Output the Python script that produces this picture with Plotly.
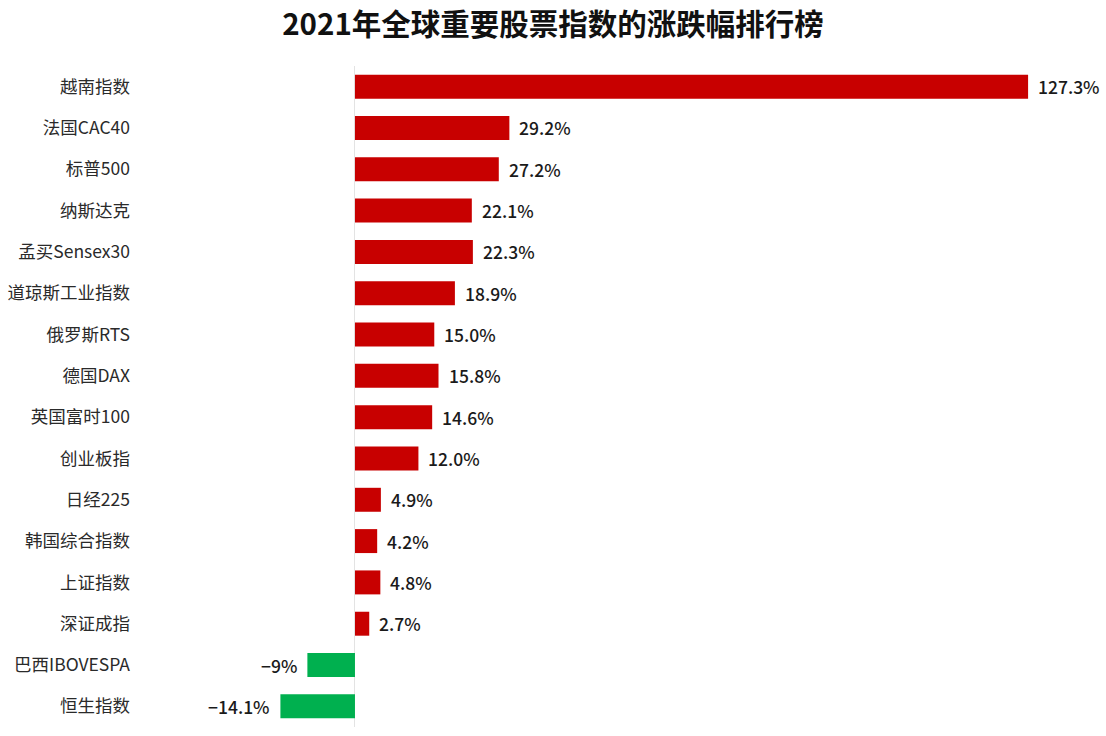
import plotly.graph_objects as go

categories = ["越南指数", "法国CAC40", "标普500", "纳斯达克", "孟买Sensex30", "道琼斯工业指数",
              "俄罗斯RTS", "德国DAX", "英国富时100", "创业板指", "日经225", "韩国综合指数",
              "上证指数", "深证成指", "巴西IBOVESPA", "恒生指数"]
values = [127.3, 29.2, 27.2, 22.1, 22.3, 18.9, 15.0, 15.8, 14.6, 12.0, 4.9, 4.2, 4.8, 2.7, -9, -14.1]
value_labels = ["127.3%", "29.2%", "27.2%", "22.1%", "22.3%", "18.9%", "15.0%", "15.8%", "14.6%",
                "12.0%", "4.9%", "4.2%", "4.8%", "2.7%", "−9%", "−14.1%"]

RED = "#C80000"
GREEN = "#00B04F"
colors = [RED if v >= 0 else GREEN for v in values]
FONT = "Noto Sans CJK SC, Noto Sans, sans-serif"

fig = go.Figure(go.Bar(
    x=values, y=categories, orientation="h",
    marker=dict(color=colors, line=dict(width=0)),
    width=0.58,
))

for c, v, t in zip(categories, values, value_labels):
    fig.add_annotation(
        x=v, y=c, text=t, showarrow=False,
        xanchor="left" if v >= 0 else "right",
        xshift=8 if v >= 0 else -8,
        font=dict(family=FONT, size=17.5, color="#1a1a1a", weight=500),
    )

fig.update_layout(
    width=1106, height=736,
    paper_bgcolor="white", plot_bgcolor="white",
    margin=dict(l=135, r=6, t=66, b=9, autoexpand=False),
    title=dict(text="<b>2021年全球重要股票指数的涨跌幅排行榜</b>", x=0.5, xanchor="center",
               y=0.967, yanchor="middle", yref="container",
               font=dict(family=FONT, size=29.5, color="#111111")),
    showlegend=False,
    bargap=0.42,
)
fig.update_xaxes(range=[-41.6, 140.9], showgrid=False, showticklabels=False, ticks="",
                 zeroline=True, zerolinecolor="#e3e3e3", zerolinewidth=1, showline=False,
                 automargin=False)
fig.update_yaxes(autorange="reversed", showgrid=False, ticks="", showline=False, automargin=False,
                 tickfont=dict(family=FONT, size=17.5, color="#2a2a2a"), ticklabelstandoff=4)

fig.write_html("out.html", config={"displayModeBar": False},
               post_script="document.body.style.margin='0';")
